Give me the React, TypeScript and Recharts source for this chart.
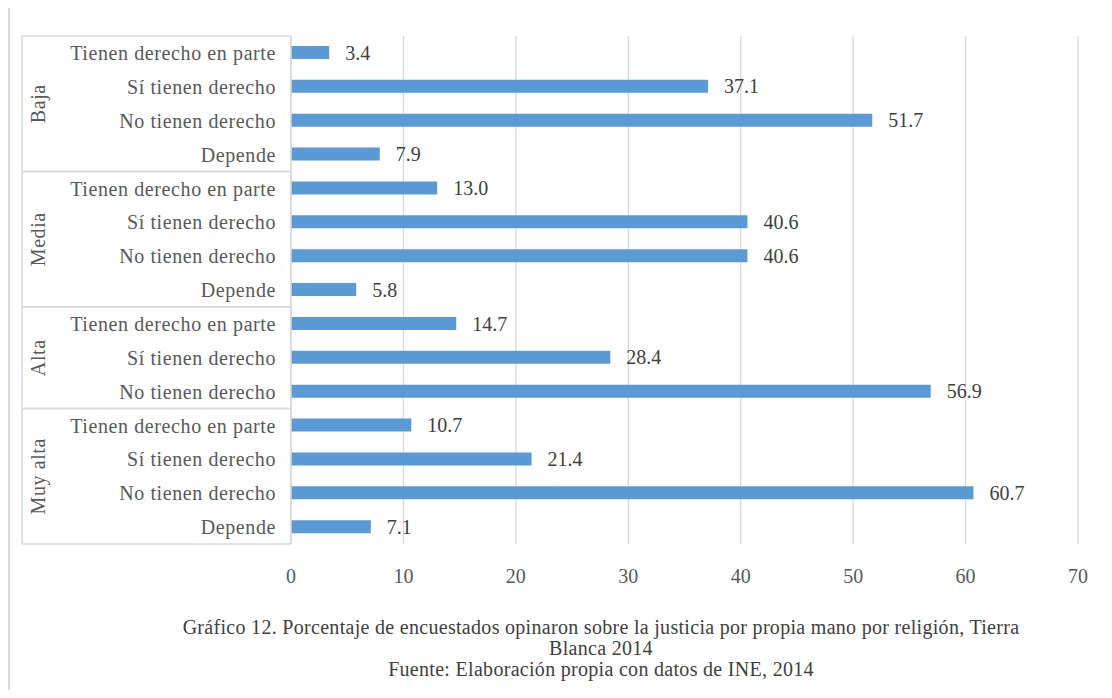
import React from 'react';
import { Bar, BarChart, CartesianGrid, LabelList, XAxis, YAxis } from 'recharts';

// Respuestas posibles y porcentajes por nivel de religiosidad
const answers = ['Tienen derecho en parte', 'Sí tienen derecho', 'No tienen derecho', 'Depende'];
const groups = ['Baja', 'Media', 'Alta', 'Muy alta'];

const bajaValues = [3.4, 37.1, 51.7, 7.9];
const mediaValues = [13.0, 40.6, 40.6, 5.8];
const altaValues = [14.7, 28.4, 56.9]; // sin "Depende"
const muyAltaValues = [10.7, 21.4, 60.7, 7.1];

const xTicks = [0, 10, 20, 30, 40, 50, 60, 70];

const captionLines = [
  'Gráfico 12. Porcentaje de encuestados opinaron sobre la justicia por propia mano por religión, Tierra',
  'Blanca 2014',
  'Fuente: Elaboración propia con datos de INE, 2014',
];

const FONT = 'Liberation Serif, DejaVu Serif, serif';
const AXIS_COLOR = '#595959';
const LABEL_COLOR = '#404040';
const LINE_COLOR = '#d9d9d9';
const BAR_COLOR = '#5B9BD5';

const groupValues = [bajaValues, mediaValues, altaValues, muyAltaValues];

// una fila por barra; la clave es única porque las respuestas se repiten
const rows = groups.flatMap((group, gi) =>
  groupValues[gi].map((value, i) => ({
    key: `${group}|${answers[i]}`,
    group,
    answer: answers[i],
    value,
    first: i === 0,
    last: i === groupValues[gi].length - 1,
    size: groupValues[gi].length,
  }))
);

const TICK_GAP = 15;
const GROUP_LINE_X = 22;

// etiqueta de categoría + separadores y nombre del grupo
const CategoryTick = (props: any) => {
  const { x, y, index, payload } = props;
  const row = rows[index];
  if (!row) return null;
  const half = payload?.offset ?? 17;
  const axisX = x + TICK_GAP;
  const top = y - half;
  const bottom = y + half;
  const groupMid = top + row.size * half;
  return (
    <g>
      <text
        x={x}
        y={y}
        dy="0.355em"
        textAnchor="end"
        fill={AXIS_COLOR}
        fontSize={20}
        fontFamily={FONT}
        letterSpacing={0.6}
      >
        {row.answer}
      </text>
      {row.first && (
        <>
          <line x1={GROUP_LINE_X} x2={axisX} y1={top} y2={top} stroke={LINE_COLOR} strokeWidth={1.5} />
          <line x1={GROUP_LINE_X} x2={GROUP_LINE_X} y1={top} y2={top + row.size * half * 2} stroke={LINE_COLOR} strokeWidth={1.5} />
          <text
            x={38}
            y={groupMid}
            dy="0.355em"
            textAnchor="middle"
            transform={`rotate(-90 38 ${groupMid})`}
            fill={AXIS_COLOR}
            fontSize={20}
            fontFamily={FONT}
            letterSpacing={0.6}
          >
            {row.group}
          </text>
        </>
      )}
      {row.last && (
        <line x1={GROUP_LINE_X} x2={axisX} y1={bottom} y2={bottom} stroke={LINE_COLOR} strokeWidth={1.5} />
      )}
    </g>
  );
};

export default function App() {
  return (
    <div
      style={{
        position: 'relative',
        width: 1112,
        height: 698,
        margin: -8,
        overflow: 'hidden',
        background: '#fff',
      }}
    >
      {/* marco del gráfico */}
      <div
        style={{
          position: 'absolute',
          left: 8,
          top: 5,
          width: 1300,
          height: 900,
          borderTop: `2px solid ${LINE_COLOR}`,
          borderLeft: `2px solid ${LINE_COLOR}`,
        }}
      />
      <div style={{ position: 'absolute', left: 0, top: 0 }}>
        <BarChart
          width={1112}
          height={698}
          data={rows}
          layout="vertical"
          margin={{ top: 36, right: 34, bottom: 124, left: 0 }}
          barSize={13}
        >
          <CartesianGrid horizontal={false} stroke={LINE_COLOR} strokeWidth={1.3} />
          <XAxis
            type="number"
            domain={[0, 70]}
            ticks={xTicks}
            axisLine={false}
            tickLine={false}
            tickSize={0}
            tickMargin={25}
            height={30}
            tick={{ fill: AXIS_COLOR, fontSize: 20, fontFamily: FONT }}
          />
          <YAxis
            type="category"
            dataKey="key"
            width={291}
            interval={0}
            tickLine={false}
            tickSize={0}
            tickMargin={TICK_GAP}
            axisLine={{ stroke: LINE_COLOR, strokeWidth: 1.5 }}
            tick={<CategoryTick />}
          />
          <Bar dataKey="value" fill={BAR_COLOR} isAnimationActive={false}>
            <LabelList
              dataKey="value"
              position="right"
              offset={16}
              formatter={(v: any) => Number(v).toFixed(1)}
              fill={LABEL_COLOR}
              fontSize={20}
              fontFamily={FONT}
            />
          </Bar>
        </BarChart>
      </div>
      {/* leyenda del gráfico */}
      <div
        style={{
          position: 'absolute',
          left: 0,
          width: 1202,
          top: 616.5,
          textAlign: 'center',
          fontFamily: FONT,
          fontSize: 20,
          lineHeight: '21px',
          letterSpacing: 0.3,
          color: LABEL_COLOR,
          whiteSpace: 'nowrap',
        }}
      >
        {captionLines.map((line) => (
          <div key={line}>{line}</div>
        ))}
      </div>
    </div>
  );
}
